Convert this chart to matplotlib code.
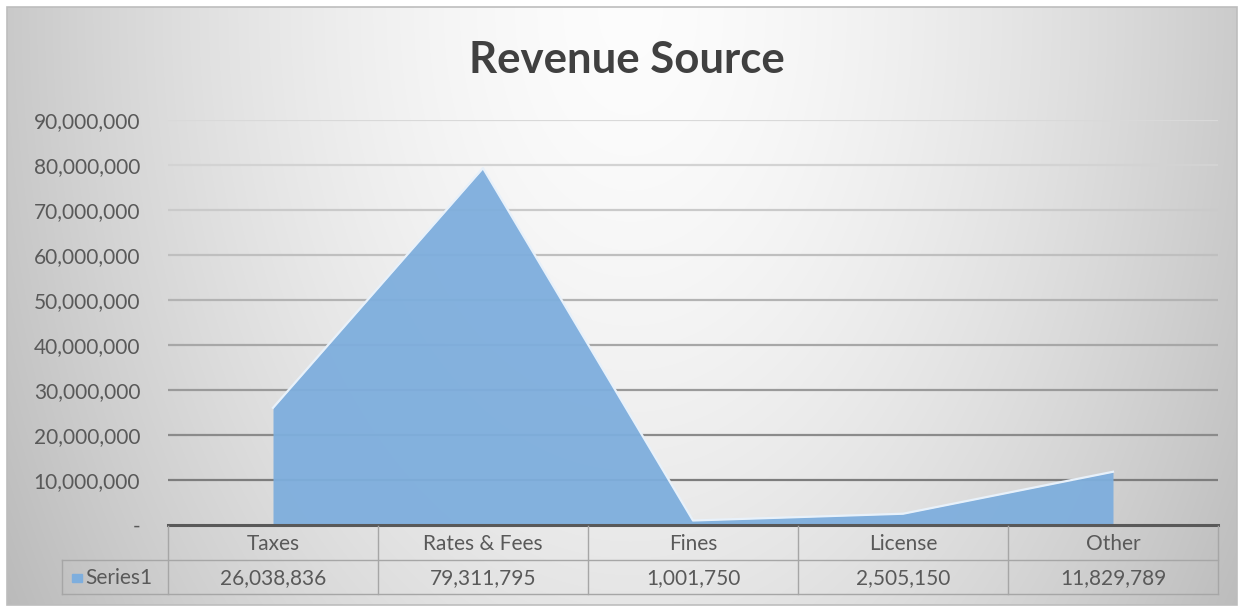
import numpy as np
import matplotlib.pyplot as plt
from matplotlib.lines import Line2D
from matplotlib.patches import Rectangle

categories = ['Taxes', 'Rates & Fees', 'Fines', 'License', 'Other']
values = [26038836, 79311795, 1001750, 2505150, 11829789]
series_name = 'Series1'
y_ticks = [0, 10e6, 20e6, 30e6, 40e6, 50e6, 60e6, 70e6, 80e6, 90e6]

W, H = 1244, 611
plt.rcParams['font.family'] = ['Lato', 'DejaVu Sans']
text_col = '#595959'
fill_col = '#7eaedd'
fs = 15

fig = plt.figure(figsize=(W / 100, H / 100), dpi=100)
fig.patch.set_facecolor('white')


def fx(px):
    return px / W


def fy(py):
    return 1 - py / H


# chart area with a soft radial grey gradient
x0, x1, y0, y1 = 7, 1237, 7, 605
bg = fig.add_axes([fx(x0), fy(y1), fx(x1 - x0), (y1 - y0) / H])
gx, gy = np.meshgrid(np.arange(x0, x1), np.arange(y0, y1))
r = np.sqrt(((gx - 630) / 640.0) ** 2 + ((gy - 10) / 1000.0) ** 2)
shade = np.clip(0.99 - 0.21 * r ** 1.6, 0, 1)
bg.imshow(np.dstack([shade] * 3), aspect='auto', interpolation='bilinear')
bg.set_axis_off()
fig.patches.append(Rectangle((fx(x0), fy(y1)), fx(x1 - x0), (y1 - y0) / H,
                             transform=fig.transFigure, fill=False,
                             edgecolor='#bdbdbd', lw=1.2, zorder=5))

# plot area
ax = fig.add_axes([fx(168), fy(525), fx(1218 - 168), (525 - 120) / H])
ax.patch.set_alpha(0)
x = np.arange(len(categories))
ax.set_xlim(-0.5, len(categories) - 0.5)
ax.set_ylim(0, 90e6)

# gridlines get darker toward the bottom
for t in y_ticks[1:]:
    g = 0.85 - 0.42 * (1 - t / 90e6) ** 1.3
    ax.axhline(t, color=(g, g, g), lw=1.6, zorder=1)

ax.fill_between(x, values, 0, color=fill_col, alpha=0.95, lw=0, zorder=2)
ax.plot(x, values, color='#e8f1fa', lw=1.6, zorder=3)
ax.axhline(0, color='#595959', lw=2.2, zorder=4, clip_on=False)

ax.set_yticks(y_ticks)
ax.set_yticklabels(['-' if t == 0 else f'{int(t):,}' for t in y_ticks],
                   fontsize=fs, color=text_col)
ax.tick_params(axis='y', length=0, pad=20)
ax.set_xticks([])
for s in ax.spines.values():
    s.set_visible(False)

fig.text(fx(627), fy(60), 'Revenue Source', ha='center', va='center',
         fontsize=31.5, fontweight='bold', color='#404040')

# data table under the axis
tc = '#a6a6a6'
L, R = 62, 1218
fig.add_artist(Line2D([fx(L), fx(R)], [fy(560), fy(560)], color=tc, lw=1))
fig.add_artist(Line2D([fx(L), fx(R)], [fy(594), fy(594)], color=tc, lw=1))
fig.add_artist(Line2D([fx(L), fx(L)], [fy(560), fy(594)], color=tc, lw=1))
for i in range(len(categories) + 1):
    px = 168 + 210 * i
    fig.add_artist(Line2D([fx(px), fx(px)], [fy(526), fy(594)], color=tc, lw=1))
for i, (c, v) in enumerate(zip(categories, values)):
    cx = 273 + 210 * i
    fig.text(fx(cx), fy(544), c, ha='center', va='center', fontsize=fs, color=text_col)
    fig.text(fx(cx), fy(578), f'{v:,}', ha='center', va='center', fontsize=fs, color=text_col)
fig.patches.append(Rectangle((fx(72), fy(582)), fx(10), 8 / H,
                             transform=fig.transFigure, color=fill_col))
fig.text(fx(85), fy(578), series_name, ha='left', va='center', fontsize=fs, color=text_col)

fig.savefig('out.png', dpi=100)
